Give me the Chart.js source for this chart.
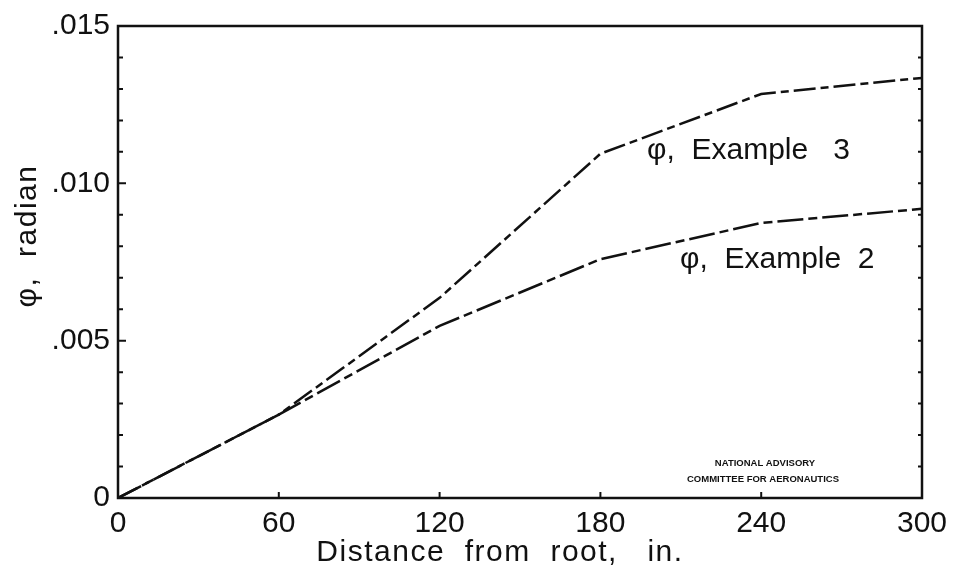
<!DOCTYPE html>
<html>
<head>
<meta charset="utf-8">
<script src="https://cdn.jsdelivr.net/npm/chart.js@4/dist/chart.umd.min.js"></script>
<style>
  html, body { margin: 0; padding: 0; background: #ffffff; }
  #wrap { width: 957px; height: 576px; position: relative; }
</style>
</head>
<body>
<div id="wrap"><canvas id="c" width="957" height="576"></canvas></div>
<script>
// ---- data ----
const distances = [0, 60, 120, 180, 240, 300];            // in.
const example3  = [0, 0.00265, 0.00636, 0.01094, 0.01284, 0.01335]; // radian
const example2  = [0, 0.00265, 0.00547, 0.00759, 0.00874, 0.00919]; // radian
const xTicks = [0, 60, 120, 180, 240, 300];
const yTicks = [0, 0.005, 0.010, 0.015];
const seriesLabels = ['\u03C6,  Example   3', '\u03C6,  Example  2'];
const xTitle = 'Distance  from  root,   in.';
const yTitle = '\u03C6,  radian';
const creditLines = ['NATIONAL ADVISORY', 'COMMITTEE FOR AERONAUTICS'];

const FONT = '"Liberation Sans", Arial, sans-serif';
const INK = '#111111';

function pts(ys) { return distances.map((x, i) => ({ x: x, y: ys[i] })); }

const decor = {
  id: 'decor',
  afterDraw(chart) {
    const ctx = chart.ctx;
    const a = chart.chartArea;
    const xs = chart.scales.x, ys = chart.scales.y;
    ctx.save();
    ctx.strokeStyle = INK;
    ctx.lineWidth = 2.5;
    ctx.strokeRect(a.left, a.top, a.right - a.left, a.bottom - a.top);
    // minor ticks on y (inward, left and right)
    ctx.lineWidth = 2;
    for (let k = 1; k < 15; k++) {
      const py = ys.getPixelForValue(k * 0.001);
      const len = (k % 5 === 0) ? 8 : 5;
      ctx.beginPath();
      ctx.moveTo(a.left, py); ctx.lineTo(a.left + len, py);
      ctx.moveTo(a.right, py); ctx.lineTo(a.right - 4, py);
      ctx.stroke();
    }
    // x ticks (inward)
    for (const v of xTicks.slice(1, -1)) {
      const px = xs.getPixelForValue(v);
      ctx.beginPath();
      ctx.moveTo(px, a.bottom); ctx.lineTo(px, a.bottom - 6);
      ctx.stroke();
    }
    // curve labels
    ctx.fillStyle = INK;
    ctx.font = '30px ' + FONT;
    ctx.textAlign = 'left';
    ctx.textBaseline = 'alphabetic';
    ctx.fillText(seriesLabels[0], 647, 159);
    ctx.fillText(seriesLabels[1], 680, 268);
    // credit
    ctx.font = 'bold 9.5px ' + FONT;
    ctx.textAlign = 'center';
    ctx.fillText(creditLines[0], 765, 466);
    ctx.fillText(creditLines[1], 763, 482);
    // axis titles
    ctx.font = '30px ' + FONT;
    ctx.textAlign = 'center';
    if ('letterSpacing' in ctx) ctx.letterSpacing = '1.5px';
    ctx.fillText(xTitle, 500, 561);
    ctx.save();
    ctx.translate(36, 236);
    ctx.rotate(-Math.PI / 2);
    ctx.fillText(yTitle, 0, 0);
    ctx.restore();
    ctx.restore();
  }
};

new Chart(document.getElementById('c'), {
  type: 'line',
  data: {
    datasets: [
      {
        label: seriesLabels[0],
        data: pts(example3),
        borderColor: INK,
        borderWidth: 2.5,
        borderDash: [22, 5, 8, 5],
        pointRadius: 0,
        tension: 0,
        fill: false
      },
      {
        label: seriesLabels[1],
        data: pts(example2),
        borderColor: INK,
        borderWidth: 2.5,
        borderDash: [26, 5, 9, 5],
        pointRadius: 0,
        tension: 0,
        fill: false
      }
    ]
  },
  options: {
    responsive: false,
    animation: false,
    devicePixelRatio: 1,
    layout: { padding: { left: 0, top: 24, right: 35, bottom: 0 } },
    plugins: {
      legend: { display: false },
      tooltip: { enabled: false },
      title: { display: false }
    },
    scales: {
      x: {
        type: 'linear',
        min: 0, max: 300,
        afterBuildTicks(s) { s.ticks = xTicks.map(v => ({ value: v })); },
        afterFit(s) { s.height = 78; },
        grid: { display: false, drawTicks: false },
        border: { display: false },
        ticks: {
          color: INK,
          padding: 8,
          font: { family: FONT, size: 30 },
          maxRotation: 0,
          callback: v => String(v)
        }
      },
      y: {
        type: 'linear',
        min: 0, max: 0.015,
        afterBuildTicks(s) { s.ticks = yTicks.map(v => ({ value: v })); },
        afterFit(s) { s.width = 118; },
        grid: { display: false, drawTicks: false },
        border: { display: false },
        ticks: {
          color: INK,
          padding: 8,
          font: { family: FONT, size: 30 },
          callback: v => (Math.abs(v) < 1e-9 ? '0' : v.toFixed(3).replace(/^0/, ''))
        }
      }
    }
  },
  plugins: [decor]
});
</script>
</body>
</html>
